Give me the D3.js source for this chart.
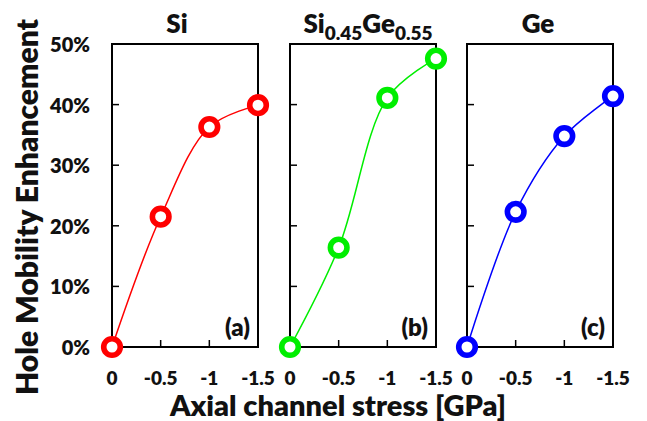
<!DOCTYPE html>
<html>
<head>
<meta charset="utf-8">
<script src="https://cdn.jsdelivr.net/npm/d3@7"></script>
<style>
  body { margin: 0; background: #fff; }
  svg text { font-family: Lato, "Open Sans", sans-serif; font-weight: 800; fill: #111; }
</style>
</head>
<body>
<svg id="chart" width="647" height="421"></svg>
<script>
// stress values on the x axis (GPa)
const stress = [0, -0.5, -1, -1.5];
const xTickLabels = ["0", "-0.5", "-1", "-1.5"];
const yTicks = [0, 10, 20, 30, 40, 50];

// hole mobility enhancement (%)
const siValues = [0, 21.5, 36.3, 39.9];
const sigeValues = [0, 16.4, 41.1, 47.6];
const geValues = [0, 22.3, 34.8, 41.4];

const panelNames = ["Si", "SiGe", "Ge"];
const panelLetters = ["(a)", "(b)", "(c)"];
const panelColors = ["#ff0000", "#00ee00", "#0000ff"];
const panelLefts = [112, 290, 467];
const titleCenters = [177, 368, 538];
const panelValues = [siValues, sigeValues, geValues];

const panelW = 146;
const plotTop = 44, plotBottom = 347;

const svg = d3.select("#chart");

const y = d3.scaleLinear().domain([0, 50]).range([plotBottom, plotTop]);

panelLefts.forEach((left, i) => {
  const x = d3.scaleLinear().domain([0, -1.5]).range([left, left + panelW]);
  const g = svg.append("g");

  // frame
  g.append("rect")
    .attr("x", left).attr("y", plotTop)
    .attr("width", panelW).attr("height", plotBottom - plotTop)
    .attr("fill", "none").attr("stroke", "#000").attr("stroke-width", 2);

  // inward ticks on the left side
  g.selectAll(".yt")
    .data(yTicks.slice(1, -1))
    .enter().append("line")
    .attr("x1", left).attr("x2", left + 7)
    .attr("y1", d => y(d)).attr("y2", d => y(d))
    .attr("stroke", "#000").attr("stroke-width", 1.5);

  // inward ticks on the bottom
  g.selectAll(".xt")
    .data(stress.slice(1, -1))
    .enter().append("line")
    .attr("x1", d => x(d)).attr("x2", d => x(d))
    .attr("y1", plotBottom).attr("y2", plotBottom - 7)
    .attr("stroke", "#000").attr("stroke-width", 1.5);

  // x tick labels
  g.selectAll(".xl")
    .data(stress)
    .enter().append("text")
    .attr("x", d => x(d))
    .attr("y", 385)
    .attr("text-anchor", "middle")
    .style("font-size", "19px")
    .text((d, j) => xTickLabels[j]);

  // y tick labels only on first panel
  if (i === 0) {
    g.selectAll(".yl")
      .data(yTicks)
      .enter().append("text")
      .attr("x", 90)
      .attr("y", d => y(d) + 8)
      .attr("text-anchor", "end")
      .style("font-size", "20px")
      .text(d => d + "%");
  }

  const pts = stress.map((s, j) => [x(s), y(panelValues[i][j])]);

  g.append("path")
    .attr("d", d3.line().curve(d3.curveCatmullRom.alpha(0.5))(pts))
    .attr("fill", "none")
    .attr("stroke", panelColors[i])
    .attr("stroke-width", 1.5);

  g.selectAll("circle")
    .data(pts)
    .enter().append("circle")
    .attr("cx", d => d[0]).attr("cy", d => d[1])
    .attr("r", 8.3)
    .attr("fill", "#fff")
    .attr("stroke", panelColors[i])
    .attr("stroke-width", 5.6);

  // panel letter
  g.append("text")
    .attr("x", left + panelW - 8)
    .attr("y", plotBottom - 11)
    .attr("text-anchor", "end")
    .style("font-size", "24px")
    .text(panelLetters[i]);

  // panel title
  const title = g.append("text")
    .attr("x", titleCenters[i])
    .attr("y", 33)
    .attr("text-anchor", "middle")
    .style("font-size", "26px");
  if (panelNames[i] === "SiGe") {
    title.append("tspan").text("Si");
    title.append("tspan").attr("dy", 7).style("font-size", "19px").text("0.45");
    title.append("tspan").attr("dy", -7).text("Ge");
    title.append("tspan").attr("dy", 7).style("font-size", "19px").text("0.55");
  } else {
    title.text(panelNames[i]);
  }
});

// axis titles
svg.append("text")
  .attr("transform", "translate(38,207) rotate(-90)")
  .attr("text-anchor", "middle")
  .style("font-size", "30px")
  .text("Hole Mobility Enhancement");

svg.append("text")
  .attr("x", 338)
  .attr("y", 416)
  .attr("text-anchor", "middle")
  .style("font-size", "29px")
  .text("Axial channel stress [GPa]");
</script>
</body>
</html>
